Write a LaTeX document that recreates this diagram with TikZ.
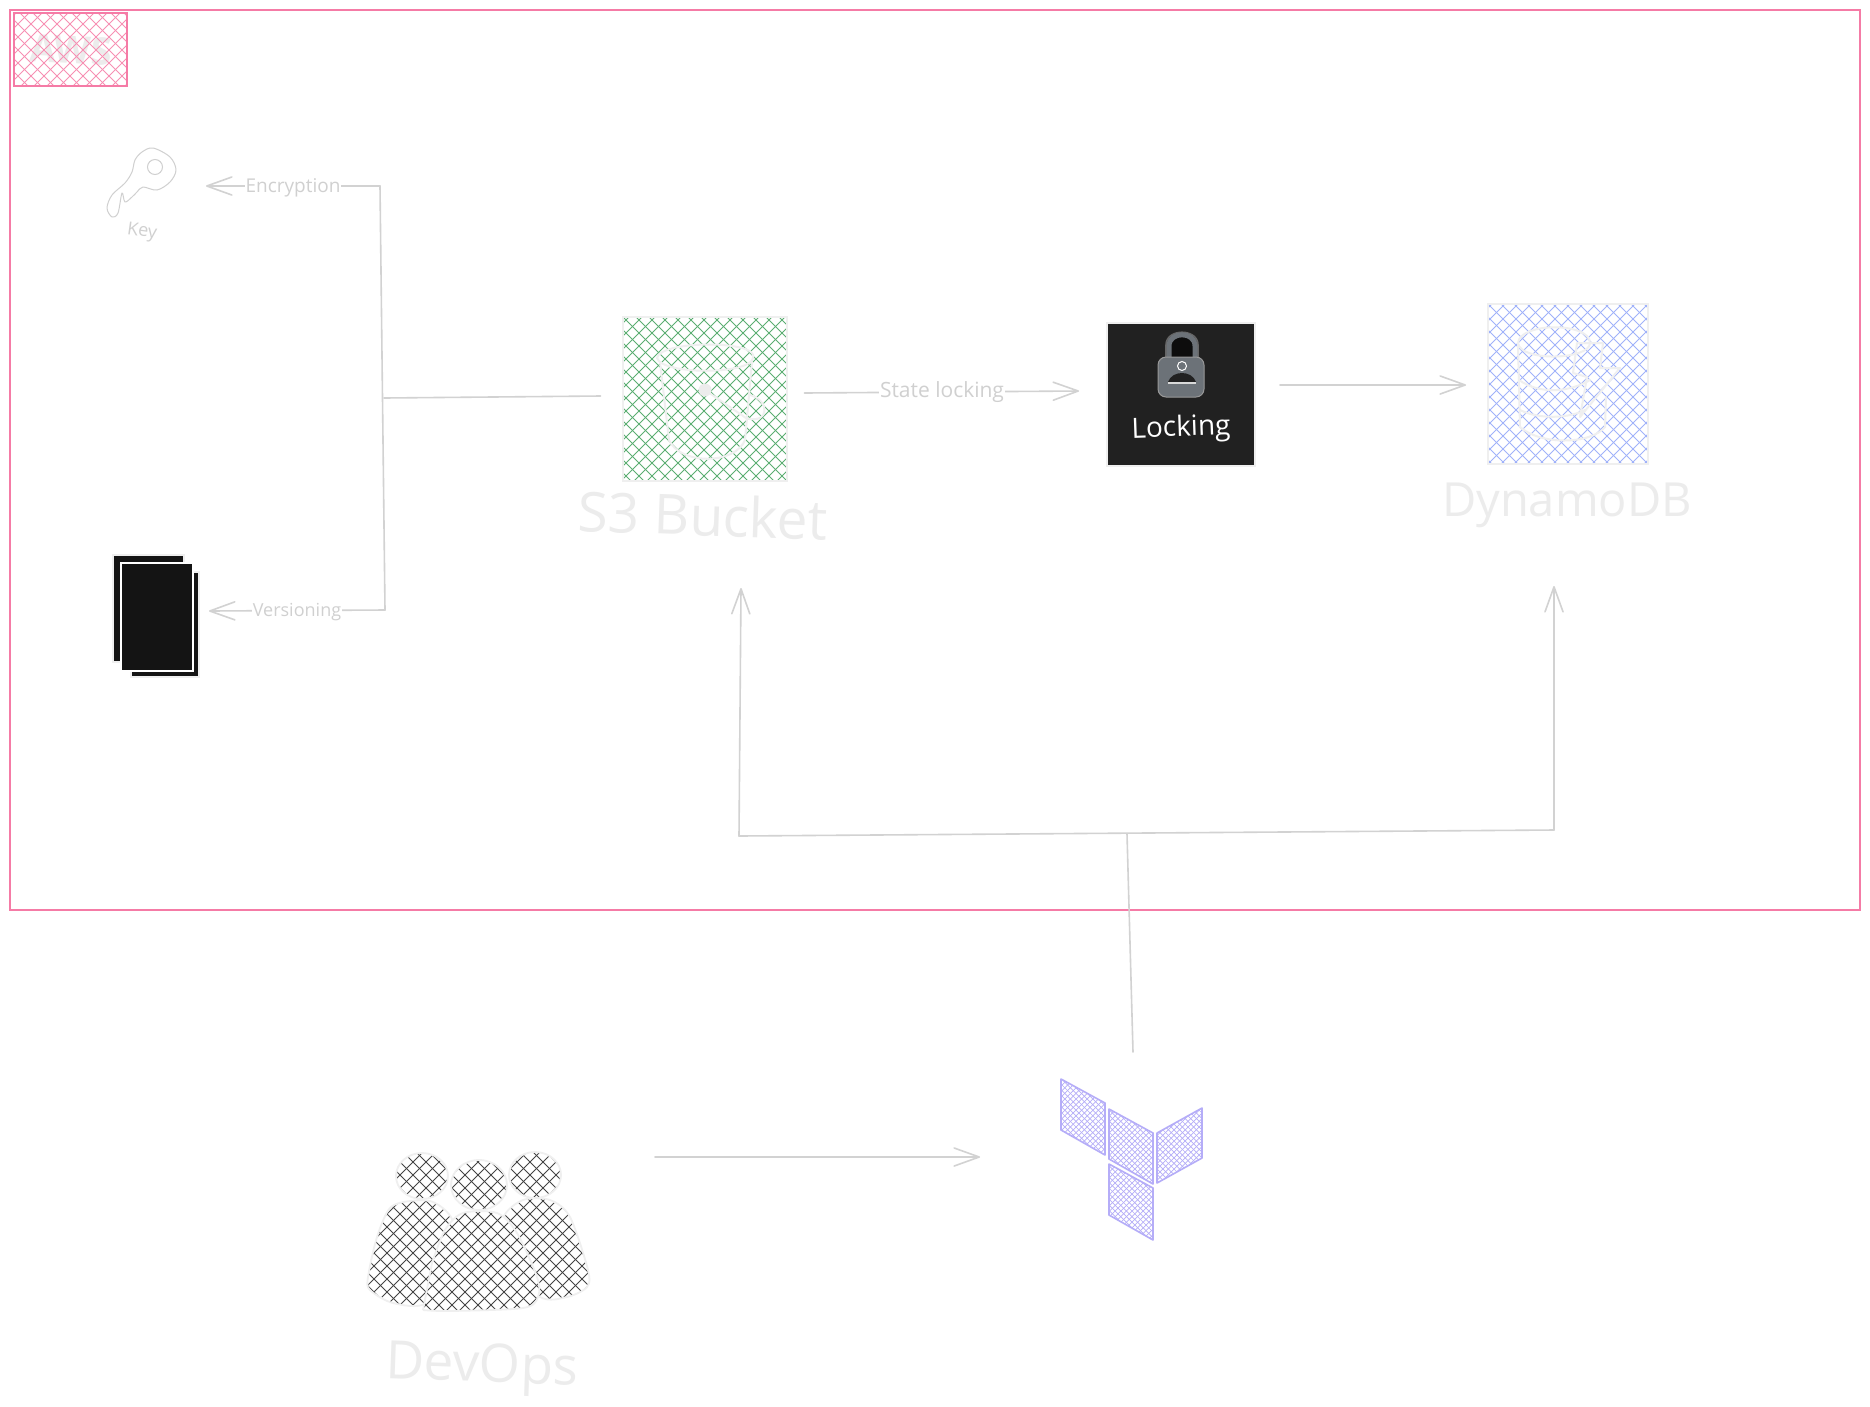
\documentclass[tikz,border=0pt]{standalone}
\usepackage{fontspec}
\setmainfont{Open Sans}
\usetikzlibrary{arrows.meta}
\definecolor{pinkc}{HTML}{F57BA6}
\definecolor{greenc}{HTML}{5BAE72}
\definecolor{bluec}{HTML}{A0B2FA}
\definecolor{violetc}{HTML}{B5ADF8}
\definecolor{darkc}{HTML}{444444}
\definecolor{conn}{HTML}{D2D2D2}
\definecolor{faint}{HTML}{ECECEC}
\definecolor{lbl}{HTML}{D0D0D0}
\definecolor{edgec}{HTML}{EFEFEF}
\definecolor{lockgrey}{HTML}{6C7278}
% \hatch{clip path}{colour}{cx}{cy}{half extent}{horizontal spacing}{line width}
\newcommand{\hatch}[7]{%
  \begin{scope}
    \clip #1;
    \pgfmathtruncatemacro{\hN}{2*#5/#6+1}
    \foreach \hi in {-\hN,...,\hN}{
      \pgfmathsetmacro{\hk}{\hi*#6}
      \draw[#2,line width=#7] (#3+\hk-#5,#4-#5) -- (#3+\hk+#5,#4+#5);
      \draw[#2,line width=#7] (#3+\hk-#5,#4+#5) -- (#3+\hk+#5,#4-#5);
    }
  \end{scope}}
\tikzset{
  x=1pt,y=-1pt,
  conline/.style={draw=conn,line width=1.6pt,line cap=round,line join=round},
  arrowline/.style={conline,-{Straight Barb[length=25pt,width=18pt,line width=1.6pt,round]}},
  edgelabel/.style={fill=white,text=lbl,font=\fontsize{#1}{20}\selectfont,inner sep=1pt},
  bigtext/.style={text=faint,inner sep=0pt},
  iconline/.style={draw=edgec,line width=2pt,line cap=round,line join=round},
  boxedge/.style={draw=edgec,line width=2pt,minimum width=#1,minimum height=#1,inner sep=0pt,outer sep=0pt},
  groupedge/.style={draw=pinkc,line width=2.2pt},
  sheet/.style={fill=#1,line width=2pt},
  tf/.style={draw=violetc,line width=1.6pt,line join=round},
  userline/.style={draw=edgec,line width=1.8pt},
}
\begin{document}
\begin{tikzpicture}
\useasboundingbox (0,0) rectangle (1870,1406);
\fill[white] (0,0) rectangle (1870,1406);

% group frame
\node[groupedge,minimum width=1850pt,minimum height=900pt,inner sep=0pt,outer sep=0pt] (awsgroup) at (935,460) {};

% AWS tag
\node[bigtext,text=faint,font=\fontsize{38}{40}\selectfont\bfseries,rotate=-3] (awstext) at (71,50) {AWS};
\hatch{(14,13) rectangle (127,86)}{pinkc!85}{70}{50}{70}{13}{0.9pt}
\node[draw=pinkc,line width=2.2pt,minimum width=113pt,minimum height=73pt,inner sep=0pt,outer sep=0pt] (awstag) at (70.5,49.5) {};

% key
\coordinate (key) at (143,186);
\draw[draw=lbl,line width=1pt,line join=round,smooth cycle,tension=.55] plot coordinates {
 (153,148) (170,157) (176,170) (170,182) (157,190) (143,187) (137,192) (132,197) (125,202)
 (122,193) (118,213) (112,217) (107,208) (112,195) (125,183) (132,172) (135,160) (142,152)};
\draw[draw=lbl,line width=1pt] (155,167) circle (7.5);
\node[text=lbl,font=\fontsize{18}{20}\selectfont,inner sep=0pt,rotate=-8] (keylabel) at (142,232) {Key};

% versions stack
\coordinate (versions) at (156,616);
\draw[draw=edgec,sheet=black!92] (113,555) rectangle (184,662);
\draw[draw=edgec,sheet=black!92] (131,572) rectangle (199,677);
\draw[draw=white,sheet=black!92,line width=2.4pt] (121,563) rectangle (193,671);

% S3 bucket
\hatch{(622,317) rectangle (787,480)}{greenc}{704}{398}{90}{13}{0.9pt}
\draw[iconline] (657,358) .. controls (660,340) and (760,340) .. (753,358) .. controls (750,375) and (662,375) .. (657,358);
\draw[iconline] (660,362) -- (669,440) .. controls (680,465) and (735,465) .. (745,440) -- (752,362);
\draw[iconline] (705,390) -- (746,418) .. controls (770,425) and (770,400) .. (750,395);
\fill[faint] (705,390) circle (6.5);
\node[boxedge=164pt] (s3box) at (704.5,398.5) {};
\node[bigtext,font=\fontsize{55}{57}\selectfont,rotate=-2] (s3label) at (703,515) {S3 Bucket};

% locking
\node[fill=black!87,draw=edgec,line width=1.6pt,minimum width=148pt,minimum height=143pt,inner sep=0pt,outer sep=0pt] (lockbox) at (1181,394.5) {};
\draw[draw=black!60!white,fill=black!95,line width=1.6pt] (1166,360) -- (1166,345) .. controls (1166,328) and (1198,328) .. (1198,345) -- (1198,360) -- cycle;
\draw[draw=lockgrey,line width=5pt,line cap=round] (1169,358) -- (1169,346) .. controls (1169,331) and (1195,331) .. (1195,346) -- (1195,358);
\draw[draw=black!40!white,fill=lockgrey,line width=1pt,rounded corners=8pt] (1158,357) rectangle (1204,397);
\draw[draw=white,fill=lockgrey,line width=1pt] (1182,366) circle (4.5);
\fill[black!87] (1168,382) .. controls (1172,370) and (1192,370) .. (1196,382) -- cycle;
\draw[draw=white!85!black,line width=1.4pt] (1168,383) -- (1196,383);
\node[text=white,font=\fontsize{28}{30}\selectfont,inner sep=0pt,rotate=2] (locklabel) at (1181,429) {Locking};

% DynamoDB
\hatch{(1488,304) rectangle (1648,464)}{bluec}{1568}{384}{85}{13}{0.9pt}
\draw[iconline] (1518,343) .. controls (1520,322) and (1590,322) .. (1590,343) .. controls (1590,360) and (1520,362) .. (1518,343);
\draw[iconline] (1518,345) -- (1520,427) .. controls (1540,445) and (1590,445) .. (1605,427) -- (1606,397);
\draw[iconline] (1519,380) .. controls (1540,395) and (1570,392) .. (1590,380);
\draw[iconline] (1520,410) .. controls (1540,420) and (1570,418) .. (1585,410);
\draw[iconline] (1577,343) -- (1603,343) -- (1600,368) -- (1620,368) -- (1580,417) -- (1587,377) -- (1573,373) -- cycle;
\node[boxedge=160pt] (dynbox) at (1568,384) {};
\node[bigtext,font=\fontsize{47}{49}\selectfont] (dynlabel) at (1567,505) {DynamoDB};

% terraform
\coordinate (tfcentre) at (1133,1157);
\newcommand{\tfpart}[1]{%
  \hatch{#1}{violetc}{1132}{1155}{100}{5.6}{0.7pt}
  \path[tf] #1;}
\tfpart{(1061,1079) -- (1105,1103) -- (1105,1155) -- (1061,1130) -- cycle}
\tfpart{(1109,1109) -- (1153,1133) -- (1153,1184) -- (1109,1159) -- cycle}
\tfpart{(1157,1133) -- (1202,1108) -- (1202,1158) -- (1157,1183) -- cycle}
\tfpart{(1109,1164) -- (1153,1188) -- (1153,1240) -- (1109,1215) -- cycle}

% devops group
\coordinate (devops) at (478,1230);
\newcommand{\userleft}{plot[smooth cycle,tension=.5] coordinates {(368,1277) (377,1237) (390,1208) (410,1201) (433,1202) (452,1219) (460,1260) (427,1303) (393,1303) (370,1290)}}
\newcommand{\userright}{plot[smooth cycle,tension=.5] coordinates {(503,1218) (523,1200) (550,1200) (570,1217) (588,1270) (587,1287) (567,1297) (540,1297) (500,1260)}}
\newcommand{\usermid}{(423,1310) -- (432,1263) plot[smooth,tension=.5] coordinates {(432,1263) (445,1230) (463,1213) (497,1213) (517,1233) (537,1277) (538,1297) (523,1308) (450,1311) (423,1310)}}
\hatch{\userleft}{darkc}{478}{1240}{130}{13}{1pt}
\path[userline] \userleft;
\hatch{\userright}{darkc}{478}{1240}{130}{13}{1pt}
\path[userline] \userright;
\fill[white] \usermid;
\hatch{\usermid}{darkc}{478}{1240}{130}{13}{1pt}
\path[userline] \usermid;
\hatch{(422,1176) ellipse [x radius=26,y radius=23]}{darkc}{478}{1240}{130}{13}{1pt}
\path[userline] (422,1176) ellipse [x radius=26,y radius=23];
\hatch{(479,1185) ellipse [x radius=28,y radius=25]}{darkc}{478}{1240}{130}{13}{1pt}
\path[userline] (479,1185) ellipse [x radius=28,y radius=25];
\hatch{(535,1175) ellipse [x radius=26,y radius=23]}{darkc}{478}{1240}{130}{13}{1pt}
\path[userline] (535,1175) ellipse [x radius=26,y radius=23];
\node[bigtext,font=\fontsize{53}{55}\selectfont,rotate=-2] (devopslabel) at (482,1369) {DevOps};

% junctions of the connectors
\coordinate (trunktop) at (380,186);
\coordinate (trunkmid) at (384,398);
\coordinate (trunkbot) at (385,610);
\coordinate (busleft) at (739,836);
\coordinate (busmid) at (1127,834);
\coordinate (busright) at (1554,830);
\coordinate (s3entry) at (741,588);
\coordinate (dynentry) at (1554,586);

% S3 to key and versions
\draw[conline] ([xshift=-22pt,yshift=2.5pt]s3box.west) -- (trunkmid);
\draw[conline] (trunkbot) -- (trunktop);
\draw[arrowline] (trunktop) -- ([xshift=63pt]key) node[edgelabel=19] (enclabel) at (293,188) {Encryption};
\draw[arrowline] (trunkbot) -- ([xshift=53pt,yshift=5pt]versions) node[edgelabel=18] (verlabel) at (297,612) {Versioning};

% S3 to locking to DynamoDB
\draw[arrowline] ([xshift=18pt,yshift=5.5pt]s3box.east) -- ([xshift=-28pt,yshift=3.5pt]lockbox.west) node[edgelabel=21] (statelabel) at (942,392) {State locking};
\draw[arrowline] ([xshift=25pt,yshift=9.5pt]lockbox.east) -- ([xshift=-22pt,yshift=-1pt]dynbox.west);

% terraform to both
\draw[conline] ([yshift=105pt]tfcentre) -- (busmid);
\draw[conline] (busleft) -- (busright);
\draw[arrowline] (busleft) -- (s3entry);
\draw[arrowline] (busright) -- (dynentry);

% devops to terraform
\draw[arrowline] ([xshift=177pt,yshift=73pt]devops) -- ([xshift=-153pt]tfcentre);
\end{tikzpicture}
\end{document}
